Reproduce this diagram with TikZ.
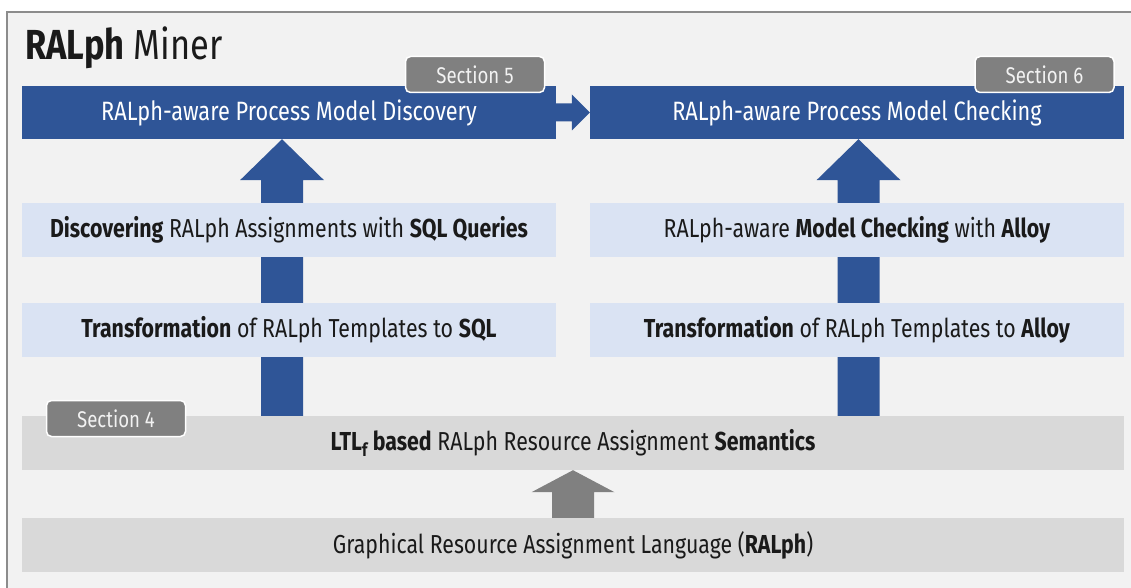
\documentclass[tikz,border=0pt]{standalone}
\usepackage{fontspec}
\setmainfont[FakeStretch=0.82]{Fira Sans}
\usetikzlibrary{calc}
\definecolor{bgc}{HTML}{F2F2F2}
\definecolor{framec}{HTML}{8C8C8C}
\definecolor{darkblue}{HTML}{2F5597}
\definecolor{lightblue}{HTML}{DAE3F3}
\definecolor{lightgray}{HTML}{D9D9D9}
\definecolor{taggray}{HTML}{808080}
\definecolor{txt}{HTML}{1A1A1A}
\tikzset{
  mainbox/.style={rectangle, fill=darkblue, text=white, minimum width=534pt, minimum height=53pt, inner sep=0pt, font=\fontsize{26.5}{30}\selectfont},
  stepbox/.style={rectangle, fill=lightblue, text=txt, minimum width=534pt, minimum height=54pt, inner sep=0pt, font=\fontsize{26}{30}\selectfont},
  basebox/.style={rectangle, fill=lightgray, text=txt, minimum width=1102pt, minimum height=54pt, inner sep=0pt, font=\fontsize{26}{30}\selectfont},
  sectag/.style={rectangle, rounded corners=5pt, fill=taggray, draw=white, line width=1.5pt, text=bgc, minimum width=139pt, minimum height=36pt, inner sep=0pt, font=\fontsize{22.7}{26}\selectfont},
}
% up block arrow: #1 base point, #2 tip point, #3 half shaft, #4 half head, #5 head length, #6 colour
\newcommand\blockarrowup[6]{%
  \path let \p1=(#1), \p2=(#2) in
    [fill=#6] (\x1-#3,\y1) -- (\x1-#3,\y2-#5) -- (\x1-#4,\y2-#5) -- (\x1,\y2)
    -- (\x1+#4,\y2-#5) -- (\x1+#3,\y2-#5) -- (\x1+#3,\y1) -- cycle;}
\begin{document}
\begin{tikzpicture}[x=1pt,y=-1pt]
\useasboundingbox (0,0) rectangle (1131,588);
\fill[white] (0,0) rectangle (1131,588);
\draw[fill=bgc, draw=framec, line width=1.5pt] (7,12) rectangle (1140,600);
\node[anchor=base west, text=txt, inner sep=0pt, font=\fontsize{42}{48}\selectfont] (title) at (25,60) {\textbf{RALph} Miner};

% main boxes
\node[mainbox] (disc) at (289,112.5) {RALph-aware Process Model Discovery};
\node[mainbox] (check) at (857,112.5) {RALph-aware Process Model Checking};

% base boxes
\node[basebox] (sem) at (573,443) {\textbf{LTL\textsubscript{f} based} RALph Resource Assignment \textbf{Semantics}};
\node[basebox] (lang) at (573,545) {Graphical Resource Assignment Language (\textbf{RALph})};

% coordinates for arrows
\coordinate (a1base) at ($(sem.north -| disc.south)+(-7pt,0)$);
\coordinate (a1tip) at ($(disc.south)+(-7pt,0)$);
\coordinate (a2base) at ($(sem.north -| check.south)+(1.5pt,0)$);
\coordinate (a2tip) at ($(check.south)+(1.5pt,0)$);
\blockarrowup{a1base}{a1tip}{21pt}{42pt}{41pt}{darkblue}
\blockarrowup{a2base}{a2tip}{21pt}{42pt}{41pt}{darkblue}
\blockarrowup{lang.north}{sem.south}{21pt}{41.5pt}{22pt}{taggray}

% right arrow
\path let \p1=(disc.east), \p2=(check.west) in
  [fill=darkblue] (\x1,\y1+9pt) -- (\x2-18pt,\y1+9pt) -- (\x2-18pt,\y1+18pt) -- (\x2,\y1)
  -- (\x2-18pt,\y1-18pt) -- (\x2-18pt,\y1-9pt) -- (\x1,\y1-9pt) -- cycle;

% step boxes
\node[stepbox] (dq) at (289,230) {\textbf{Discovering} RALph Assignments with \textbf{SQL Queries}};
\node[stepbox] (ts) at (289,330) {\textbf{Transformation} of RALph Templates to \textbf{SQL}};
\node[stepbox] (mc) at (857,230) {RALph-aware \textbf{Model Checking} with \textbf{Alloy}};
\node[stepbox] (ta) at (857,330) {\textbf{Transformation} of RALph Templates to \textbf{Alloy}};

% section tags
\node[sectag] (s5) at (475,74.5) {Section 5};
\node[sectag] (s6) at (1044.5,74.5) {Section 6};
\node[sectag] (s4) at (116,418.5) {Section 4};
\end{tikzpicture}
\end{document}
